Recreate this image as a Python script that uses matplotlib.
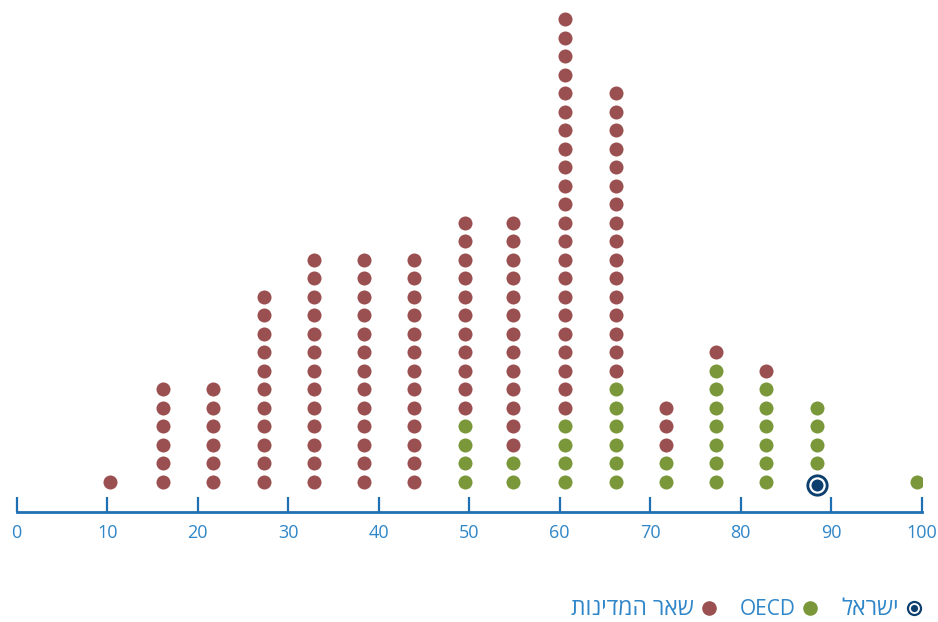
import matplotlib
matplotlib.use('Agg')
from matplotlib import pyplot as plt
from matplotlib.lines import Line2D

# ערכי הציר (מרכזי העמודות) ומספר המדינות בכל עמודה
bin_values = [10.3, 16.2, 21.7, 27.3, 32.9, 38.4, 43.9, 49.5, 54.8,
              60.6, 66.2, 71.7, 77.3, 82.8, 88.4, 99.5]
oecd_counts = [0, 0, 0, 0, 0, 0, 0, 4, 2, 4, 6, 2, 7, 6, 4, 1]
other_counts = [1, 6, 6, 11, 13, 13, 13, 11, 13, 22, 16, 3, 1, 1, 0, 0]
israel_value = 88.4

x_ticks = [0, 10, 20, 30, 40, 50, 60, 70, 80, 90, 100]
legend_labels = ['ישראל', 'OECD', 'שאר המדינות']

MAROON = '#9a5050'
GREEN = '#7a983a'
NAVY = '#0c3f6e'
AXIS_BLUE = '#1f6fb2'
TEXT_BLUE = '#2f86c8'

plt.rcParams['font.family'] = ['Open Sans', 'DejaVu Sans']


def is_hebrew(s):
    return any('\u0590' <= c <= '\u05ff' for c in s)


def rtl(s):
    # matplotlib לא הופך טקסט עברי, לכן הופכים ידנית
    return s[::-1] if is_hebrew(s) else s


fig = plt.figure(figsize=(9.38, 6.22), dpi=100)
ax = fig.add_axes([16.7 / 938, 110 / 622, 905 / 938, 512 / 622])

# בניית הנקודות: ירוק בתחתית, אחריו בורדו
gx, gy, mx, my = [], [], [], []
for v, n_g, n_m in zip(bin_values, oecd_counts, other_counts):
    start = 1 if v == israel_value else 0
    for i in range(n_g):
        gx.append(v)
        gy.append(start + i)
    for i in range(n_m):
        mx.append(v)
        my.append(start + n_g + i)

dot = 102
ax.scatter(gx, gy, s=dot, color=GREEN, linewidths=0, zorder=3)
ax.scatter(mx, my, s=dot, color=MAROON, linewidths=0, zorder=3)
ax.scatter([israel_value], [-0.15], s=255, color=NAVY, linewidths=0, zorder=4)
ax.scatter([israel_value], [-0.15], s=105, color=NAVY, edgecolors='white',
           linewidths=1.6, zorder=5)

ax.set_xlim(0, 100)
ax.set_ylim(-30 / 18.52, -30 / 18.52 + 512 / 18.52)

for side in ['top', 'left', 'right']:
    ax.spines[side].set_visible(False)
ax.spines['bottom'].set_color(AXIS_BLUE)
ax.spines['bottom'].set_linewidth(2)
ax.set_yticks([])
ax.set_xticks(x_ticks)
ax.tick_params(axis='x', direction='in', length=11, width=1.6,
               color=AXIS_BLUE, labelcolor=TEXT_BLUE, labelsize=13, pad=9)
ax.patch.set_alpha(0)

# מקרא: טקסט משמאל לסמן, מימין לשמאל
maroon_h = Line2D([], [], marker='o', linestyle='none', markersize=10.5,
                  markerfacecolor=MAROON, markeredgewidth=0)
green_h = Line2D([], [], marker='o', linestyle='none', markersize=10.5,
                 markerfacecolor=GREEN, markeredgewidth=0)
israel_outer = Line2D([], [], marker='o', linestyle='none', markersize=11,
                      markerfacecolor=NAVY, markeredgewidth=0)
israel_inner = Line2D([], [], marker='o', linestyle='none', markersize=6.5,
                      markerfacecolor=NAVY, markeredgecolor='white',
                      markeredgewidth=1.3)
handles = [maroon_h, green_h, (israel_outer, israel_inner)]
labels = [rtl(legend_labels[2]), legend_labels[1], rtl(legend_labels[0])]
leg = fig.legend(handles, labels, ncol=3, markerfirst=False, frameon=False,
                 loc='center right', bbox_to_anchor=(0.992, 13 / 622),
                 fontsize=15, handletextpad=0.3, columnspacing=1.1,
                 handlelength=0.8, borderaxespad=0)
for t in leg.get_texts():
    t.set_color(TEXT_BLUE)
    if is_hebrew(t.get_text()):
        t.set_fontsize(16.5)

fig.savefig('out.png', dpi=100)
